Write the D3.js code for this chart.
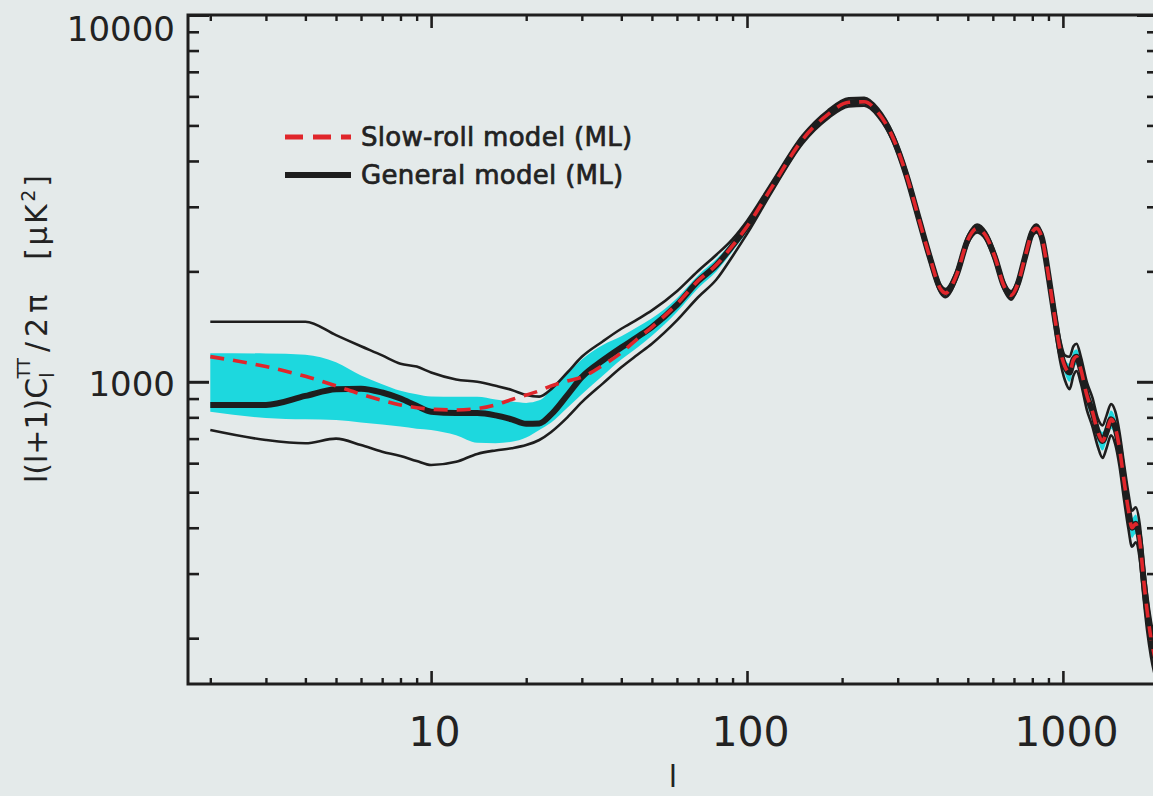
<!DOCTYPE html>
<html>
<head>
<meta charset="utf-8">
<script src="https://cdn.jsdelivr.net/npm/d3@7"></script>
<style>
  html, body { margin: 0; padding: 0; background: #e4eaea; overflow: hidden; }
  svg { display: block; }
  .tick text { font-family: "DejaVu Sans", sans-serif; fill: #222; }
</style>
</head>
<body>
<svg id="chart" width="1153" height="796"></svg>
<script>
// Multipole moments
const ell = [2,3,4,5,6,7,8,9,10,12,14,16,18,20,22,24,27,30,35,40,45,50,60,70,80,90,100,
  120,150,180,210,235,260,290,320,350,380,410,425,460,500,535,570,610,650,685,720,760,800,825,
  860,900,940,980,1015,1050,1080,1105,1140,1190,1240,1290,1335,1375,1420,1465,1510,1560,1610,
  1655,1700,1750,1800,1850,1900,2000];

// General model, maximum likelihood spectrum
const generalML = [865,865,915,955,958,935,900,860,829,822,822,810,790,768,770,815,920,1030,1145,1240,1325,1410,1620,1880,2080,2350,2650,
  3400,4580,5350,5780,5800,5420,4620,3650,2780,2170,1790,1745,1950,2440,2620,2500,2180,1830,1720,1850,2200,2560,2620,
  2450,1950,1520,1220,1100,1060,1150,1170,1080,920,830,730,690,730,790,750,660,540,450,
  400,410,370,290,235,200,165];

// Slow-roll model, maximum likelihood spectrum
const slowRollML = [1171,1100,1035,975,925,890,865,850,842,838,845,865,895,920,945,975,1005,1030,1110,1200,1310,1410,1630,1885,2085,2350,2650,
  3400,4580,5350,5780,5800,5420,4620,3650,2780,2170,1790,1745,1950,2440,2620,2500,2180,1830,1720,1850,2200,2560,2620,
  2450,1950,1520,1220,1100,1060,1150,1170,1080,920,830,730,690,730,790,750,660,540,450,
  400,410,370,290,235,200,165];

// Inner (shaded) band
const innerLow = [829,797,790,787,775,765,755,745,739,715,682,680,686,705,739,775,850,925,1040,1150,1240,1335,1550,1800,2000,2270,2570,
  3330,4510,5270,5695,5715,5340,4550,3595,2740,2140,1765,1720,1920,2405,2580,2465,2150,1805,1695,1825,2165,2520,2580,
  2415,1920,1480,1180,1050,1000,1085,1115,1025,870,785,690,650,690,745,705,620,505,420,
  375,385,348,272,220,188,155];
const innerHigh = [1196,1195,1185,1130,1040,985,945,925,912,910,910,895,883,876,890,950,1050,1150,1260,1330,1410,1490,1690,1950,2160,2420,2720,
  3470,4650,5430,5865,5885,5500,4690,3705,2820,2200,1815,1770,1980,2475,2660,2535,2215,1855,1745,1880,2235,2600,2660,
  2490,1980,1560,1260,1150,1120,1210,1225,1140,970,875,770,730,775,835,795,700,575,480,
  425,435,392,308,250,212,175];

// Outer band (thin curves)
const outerLow = [739,694,680,700,672,645,628,608,593,605,636,650,659,672,694,730,800,880,990,1095,1185,1270,1470,1700,1900,2200,2530,
  3300,4465,5215,5635,5655,5285,4505,3560,2710,2115,1745,1700,1900,2380,2555,2440,2125,1785,1675,1805,2145,2495,2555,
  2390,1900,1440,1140,1010,955,1040,1070,990,840,755,665,620,660,715,675,590,480,400,
  355,365,330,258,208,178,147];
const outerHigh = [1458,1458,1458,1340,1250,1180,1120,1100,1060,1015,1000,975,950,920,911,955,1060,1170,1290,1395,1480,1565,1765,2005,2220,2450,2745,
  3500,4695,5485,5925,5945,5555,4735,3740,2850,2225,1835,1790,2000,2500,2685,2560,2235,1875,1765,1895,2255,2625,2685,
  2510,2000,1600,1300,1180,1170,1250,1270,1170,1000,905,795,760,810,870,830,730,600,500,
  445,455,410,320,260,222,183];

// Axis ticks
const xMajorTicks = [10, 100, 1000];
const xMinorTicks = [2,3,4,5,6,7,8,9,20,30,40,50,60,70,80,90,200,300,400,500,600,700,800,900];
const yMajorTicks = [1000, 10000];
const yMinorTicks = [200,300,400,500,600,700,800,900,2000,3000,4000,5000,6000,7000,8000,9000];

const legendLabels = ["Slow-roll model (ML)", "General model (ML)"];

// ---------------------------------------------------------------
const svg = d3.select("#chart");
const frame = { left: 188, right: 1158, top: 15, bottom: 684 };

const x = d3.scaleLog().domain([1.7, 2000]).range([frame.left, frame.right]);
const y = d3.scaleLog().domain([150, 10000]).range([frame.bottom, frame.top]);

const ink = "#1e1e1e";
const cyan = "#1dd8de";
const red = "#e0262b";

svg.append("defs").append("clipPath").attr("id", "plotClip")
  .append("rect")
  .attr("x", frame.left).attr("y", frame.top)
  .attr("width", frame.right - frame.left).attr("height", frame.bottom - frame.top);

const plot = svg.append("g").attr("clip-path", "url(#plotClip)");

const idx = d3.range(ell.length);

// shaded inner band
const band = d3.area()
  .x(i => x(ell[i]))
  .y0(i => y(innerLow[i]))
  .y1(i => y(innerHigh[i]))
  .curve(d3.curveMonotoneX);

plot.append("path").datum(idx)
  .attr("d", band)
  .attr("fill", cyan);

const lineOf = arr => d3.line()
  .x(i => x(ell[i]))
  .y(i => y(arr[i]))
  .curve(d3.curveMonotoneX);

// outer band edges
[outerLow, outerHigh].forEach(arr => {
  plot.append("path").datum(idx)
    .attr("d", lineOf(arr))
    .attr("fill", "none")
    .attr("stroke", ink)
    .attr("stroke-width", 2.6)
    .attr("stroke-linejoin", "round");
});

// general model
plot.append("path").datum(idx)
  .attr("d", lineOf(generalML))
  .attr("fill", "none")
  .attr("stroke", ink)
  .attr("stroke-width", 6)
  .attr("stroke-linejoin", "round");

// slow-roll model
plot.append("path").datum(idx)
  .attr("d", lineOf(slowRollML))
  .attr("fill", "none")
  .attr("stroke", red)
  .attr("stroke-width", 3.6)
  .attr("stroke-dasharray", "14,9");

// ---------------------------------------------------------------
// Axes: ticks point inward on all four sides
function styleAxis(g, width) {
  g.selectAll(".domain").remove();
  g.selectAll(".tick text").filter(function () { return !this.textContent; }).remove();
  g.selectAll(".tick line").attr("stroke", ink).attr("stroke-width", width);
}

// bottom
svg.append("g").attr("transform", `translate(0,${frame.bottom})`)
  .call(d3.axisBottom(x).tickValues(xMinorTicks).tickSize(-6).tickFormat(""))
  .call(g => styleAxis(g, 2.4));
svg.append("g").attr("transform", `translate(0,${frame.bottom})`)
  .call(d3.axisBottom(x).tickValues(xMajorTicks).tickSize(-13).tickPadding(33).tickFormat(d3.format("d")))
  .call(g => styleAxis(g, 2.6))
  .call(g => g.selectAll(".tick text").attr("font-size", 41).attr("dx", 3));

// top
svg.append("g").attr("transform", `translate(0,${frame.top})`)
  .call(d3.axisBottom(x).tickValues(xMinorTicks).tickSize(6).tickFormat(""))
  .call(g => styleAxis(g, 2.4));
svg.append("g").attr("transform", `translate(0,${frame.top})`)
  .call(d3.axisBottom(x).tickValues(xMajorTicks).tickSize(13).tickFormat(""))
  .call(g => styleAxis(g, 2.6));

// left
svg.append("g").attr("transform", `translate(${frame.left},0)`)
  .call(d3.axisLeft(y).tickValues(yMinorTicks).tickSize(-11).tickFormat(""))
  .call(g => styleAxis(g, 2.6));
svg.append("g").attr("transform", `translate(${frame.left},0)`)
  .call(d3.axisLeft(y).tickValues(yMajorTicks).tickSize(-21).tickPadding(13).tickFormat(d3.format("d")))
  .call(g => styleAxis(g, 3))
  .call(g => g.selectAll(".tick text")
    .attr("font-size", 34)
    .attr("y", d => Math.max(3, 30 - y(d))));

// right (inward ticks drawn to the left of the frame edge)
svg.append("g").attr("transform", `translate(${frame.right},0)`)
  .call(d3.axisLeft(y).tickValues(yMinorTicks).tickSize(11).tickFormat(""))
  .call(g => styleAxis(g, 2.6));
svg.append("g").attr("transform", `translate(${frame.right},0)`)
  .call(d3.axisLeft(y).tickValues(yMajorTicks).tickSize(21).tickFormat(""))
  .call(g => styleAxis(g, 3));

// frame
svg.append("rect")
  .attr("x", frame.left).attr("y", frame.top)
  .attr("width", frame.right - frame.left).attr("height", frame.bottom - frame.top)
  .attr("fill", "none").attr("stroke", ink).attr("stroke-width", 3);

// axis titles
svg.append("text")
  .attr("x", 673).attr("y", 787)
  .attr("text-anchor", "middle")
  .attr("font-family", "DejaVu Sans, sans-serif")
  .attr("font-size", 30)
  .attr("fill", "#222")
  .text("l");

const yt = svg.append("text")
  .attr("transform", "translate(47,483) rotate(-90)")
  .attr("font-family", "DejaVu Sans, sans-serif")
  .attr("font-size", 30)
  .attr("fill", "#222");
yt.append("tspan").text("l(l+1)C");
yt.append("tspan").attr("font-size", 19).attr("dy", 7).text("l");
yt.append("tspan").attr("font-size", 17).attr("dx", -6).attr("dy", -24).text("TT");
yt.append("tspan").attr("dy", 17).attr("dx", 6).attr("letter-spacing", 5).text("/2π");
yt.append("tspan").attr("dx", 30).attr("letter-spacing", 2.5).text("[μK");
yt.append("tspan").attr("font-size", 19).attr("dy", -12).text("2");
yt.append("tspan").attr("dy", 12).attr("dx", 3).text("]");

// legend
const legendItems = legendLabels.map((label, i) => ({ label, i }));
const legend = svg.append("g");
const legendRow = legend.selectAll("g").data(legendItems).join("g")
  .attr("transform", d => `translate(285,${137 + d.i * 38})`);
legendRow.append("line")
  .attr("x1", 0).attr("x2", 66).attr("y1", 0).attr("y2", 0)
  .attr("stroke", d => d.i === 0 ? red : ink)
  .attr("stroke-width", d => d.i === 0 ? 5 : 6)
  .attr("stroke-dasharray", d => d.i === 0 ? "18,10" : null);
legendRow.append("text")
  .attr("x", 76).attr("y", 9)
  .attr("font-family", "DejaVu Sans, sans-serif")
  .attr("font-size", 26)
  .attr("letter-spacing", 0.3)
  .attr("fill", "#222")
  .attr("stroke", "#222")
  .attr("stroke-width", 0.7)
  .text(d => d.label);
</script>
</body>
</html>
